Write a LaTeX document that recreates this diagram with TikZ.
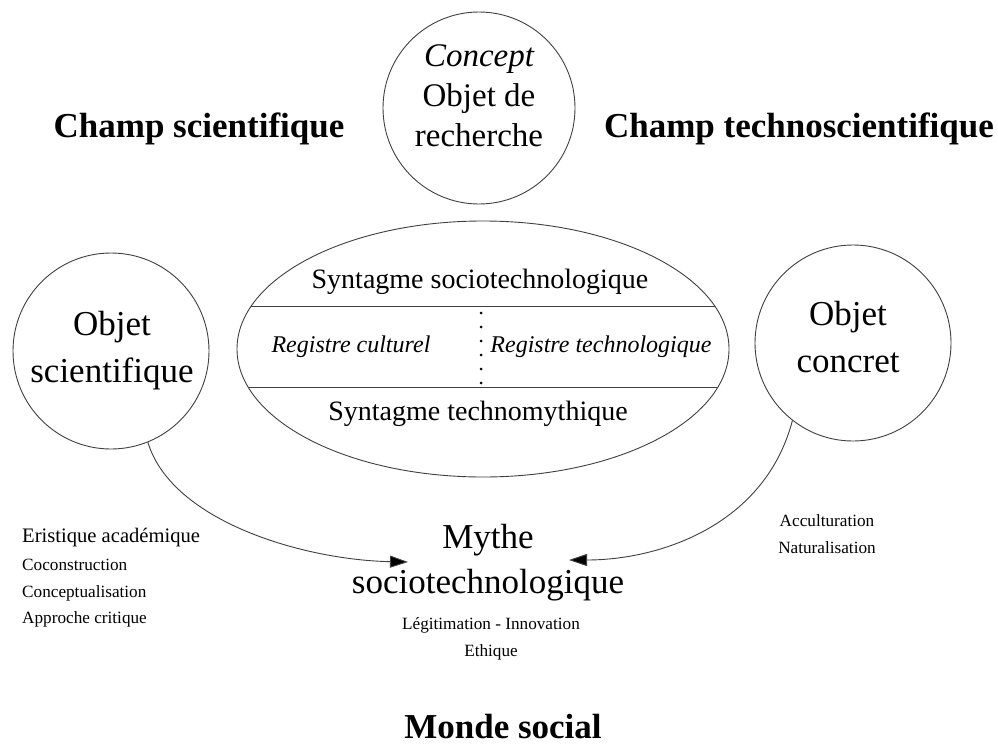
\documentclass[tikz,border=0pt]{standalone}
\usepackage{fontspec}
\setmainfont{Liberation Serif}
\usetikzlibrary{arrows.meta,shapes.geometric}
\newcommand\myfs[1]{\fontsize{#1}{#1}\selectfont}
\definecolor{linegray}{HTML}{404040}
\tikzset{
  bubble/.style={circle, draw=linegray, line width=0.9pt, inner sep=0pt, minimum size=#1},
  txt/.style={inner sep=0pt, anchor=base, text=black},
  big/.style={txt, font=\myfs{35}},
  title/.style={txt, font=\myfs{35}\bfseries},
  mid/.style={txt, font=\myfs{28}},
  reg/.style={txt, font=\myfs{24}\itshape},
  small/.style={txt, font=\myfs{17.2}},
  link/.style={draw=linegray, line width=0.9pt, -{Triangle[length=18pt,width=12pt,fill=black]}}
}
\begin{document}
\begin{tikzpicture}[x=1pt,y=-1pt]
\useasboundingbox[fill=white] (0,0) rectangle (998,744);

% titles
\node[title] (tsci) at (199,137) {Champ scientifique};
\node[title] (ttech) at (799,137) {Champ technoscientifique};
\node[title] (tsoc) at (503,738) {Monde social};

% top circle
\node[bubble=192pt] (concept) at (479,108) {};
\node[txt, font=\myfs{33}\itshape] (c1) at (479,66) {Concept};
\node[txt, font=\myfs{33}] (c2) at (479,106) {Objet de};
\node[txt, font=\myfs{33}] (c3) at (479,146) {recherche};

% left circle
\node[bubble=196pt] (objsci) at (111,351) {};
\node[big] (s1) at (112,335) {Objet};
\node[big] (s2) at (112,382) {scientifique};

% right circle
\node[bubble=196pt] (objcon) at (853,343) {};
\node[big] (r1) at (848,325) {Objet};
\node[big] (r2) at (848,372) {concret};

% central ellipse
\node[ellipse, draw=linegray, line width=0.9pt, inner sep=0pt,
      minimum width=492pt, minimum height=256pt] (synt) at (483,349) {};
\begin{scope}
  \clip (483,349) ellipse [x radius=246, y radius=128];
  \draw[linegray, line width=0.9pt] (200,306) -- (760,306);
  \draw[linegray, line width=0.9pt] (200,387) -- (760,387);
\end{scope}
\foreach \yy in {313,327,341,355,369,383}
  \fill[black] (481,\yy) circle[radius=1.5];
\node[mid] (e1) at (480,288) {Syntagme sociotechnologique};
\node[reg] (e2) at (351,352) {Registre culturel};
\node[reg] (e3) at (601,352) {Registre technologique};
\node[mid] (e4) at (478,420) {Syntagme technomythique};

% mythe
\node[big] (m1) at (488,548) {Mythe};
\node[big] (m2) at (488,593) {sociotechnologique};
\node[small] (m3) at (491,629) {Légitimation - Innovation};
\node[small] (m4) at (491,656) {Ethique};

% left list
\node[txt, anchor=base west, font=\myfs{20.6}] (l1) at (22,542) {Eristique académique};
\node[small, anchor=base west] (l2) at (22,570) {Coconstruction};
\node[small, anchor=base west] (l3) at (22,597) {Conceptualisation};
\node[small, anchor=base west] (l4) at (22,623) {Approche critique};

% right list
\node[small] (a1) at (827,526) {Acculturation};
\node[small] (a2) at (827,553) {Naturalisation};

% arrows
\coordinate (tipL) at (408,562);
\coordinate (tipR) at (569,560);
\draw[link] (objsci.-68) .. controls (172,522) and (305,560) .. (tipL);
\draw[link] (objcon.-128) .. controls (765,525) and (660,560) .. (tipR);
\end{tikzpicture}
\end{document}
